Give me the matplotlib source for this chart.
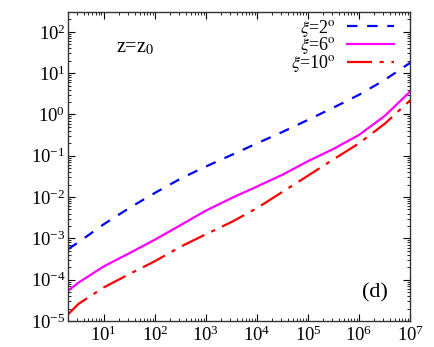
#!/usr/bin/env python
# coding: utf-8

# (d) z=z0 : log-log curves for three xi values

import matplotlib
matplotlib.use('Agg')
import matplotlib.pyplot as plt
import matplotlib.ticker as mticker
import numpy as np

# データ
x_vals = [2, 3.2, 10, 32, 100, 320, 1e3, 3.2e3, 1e4, 3.2e4, 1e5, 3.2e5, 1e6, 3.2e6, 1e7]
y_xi2 = [5.5e-4, 8.1e-4, 2.2e-3, 5.5e-3, 1.26e-2, 2.8e-2, 5.5e-2, 0.105, 0.20, 0.38,
         0.74, 1.48, 3.0, 6.9, 17.8]
y_xi6 = [5.4e-5, 8.5e-5, 2.1e-4, 4.4e-4, 9.3e-4, 2.1e-3, 4.7e-3, 9.5e-3, 1.8e-2, 3.5e-2,
         7.4e-2, 0.148, 0.32, 0.93, 3.6]
y_xi10 = [1.45e-5, 2.6e-5, 6.5e-5, 1.38e-4, 2.8e-4, 6.3e-4, 1.26e-3, 2.5e-3, 5.4e-3, 1.35e-2,
          3.3e-2, 8.3e-2, 0.20, 0.60, 2.2]
labels = [r'$\xi$=2$^{\rm o}$', r'$\xi$=6$^{\rm o}$', r'$\xi$=10$^{\rm o}$']

plt.rcParams['font.family'] = ['Liberation Serif', 'DejaVu Serif']
plt.rcParams['mathtext.fontset'] = 'stix'
plt.rcParams['lines.scale_dashes'] = False

fig = plt.figure(figsize=(4.34, 3.47), dpi=100)
ax = fig.add_axes([0.157, 0.075, 0.788, 0.890])

ax.plot(x_vals, y_xi2, color='#0000ff', lw=1.6, dashes=(7.5, 7), label=labels[0])
ax.plot(x_vals, y_xi6, color='#ff00ff', lw=1.6, label=labels[1])
ax.plot(x_vals, y_xi10, color='#ff0000', lw=1.6, dashes=(18, 5.5, 3, 5.5), label=labels[2])

ax.set_xscale('log')
ax.set_yscale('log')
ax.set_xlim(2, 1e7)
ax.set_ylim(1e-5, 3e2)

# 目盛（内向き、四辺）
ax.xaxis.set_major_locator(mticker.FixedLocator([1e1, 1e2, 1e3, 1e4, 1e5, 1e6, 1e7]))
ax.yaxis.set_major_locator(mticker.LogLocator(base=10, numticks=20))
ax.xaxis.set_minor_locator(mticker.LogLocator(base=10, subs=np.arange(2, 10), numticks=20))
ax.yaxis.set_minor_locator(mticker.LogLocator(base=10, subs=np.arange(2, 10), numticks=20))
ax.xaxis.set_minor_formatter(mticker.NullFormatter())
ax.yaxis.set_minor_formatter(mticker.NullFormatter())
fmt = mticker.FuncFormatter(lambda v, p: r'$\mathregular{10^{%d}}$' % int(round(np.log10(v))))
ax.xaxis.set_major_formatter(fmt)
ax.yaxis.set_major_formatter(fmt)
ax.tick_params(which='both', direction='in', top=True, right=True, labelsize=13.5)
ax.tick_params(which='major', length=5, width=0.8)
ax.tick_params(which='minor', length=2.5, width=0.6)
ax.tick_params(axis='x', pad=3)
ax.tick_params(axis='y', pad=2)
for sp in ax.spines.values():
    sp.set_linewidth(1.0)
    sp.set_color('#333333')

ax.text(0.14, 0.885, r'z=z$_0$', transform=ax.transAxes, fontsize=14.5, va='center')
ax.text(0.86, 0.09, '(d)', transform=ax.transAxes, fontsize=16, va='center')

leg = ax.legend(loc='upper right', frameon=False, markerfirst=False, fontsize=13,
                handlelength=2.6, handletextpad=0.6, labelspacing=-0.18,
                borderpad=0, borderaxespad=0, bbox_to_anchor=(0.952, 0.982))

plt.savefig('out.png', dpi=100)
plt.close()
